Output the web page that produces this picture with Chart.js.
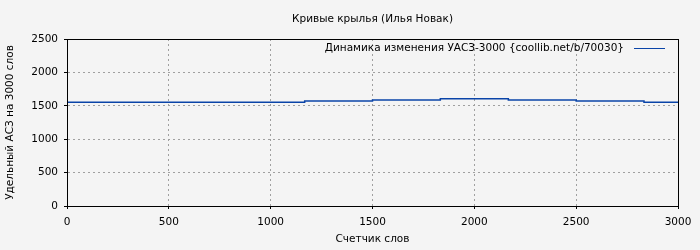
<!DOCTYPE html>
<html>
<head>
<meta charset="utf-8">
<script src="https://cdn.jsdelivr.net/npm/chart.js@4/dist/chart.umd.min.js"></script>
<style>
  html, body { margin: 0; padding: 0; background: #f4f4f4; }
  #wrap { width: 700px; height: 250px; }
</style>
</head>
<body>
<div id="wrap"><canvas id="Grafico" width="700" height="250"></canvas></div>
<script>
// word counter positions where the value changes, and the value from there on
const wordCounts = [0, 1167, 1500, 1833, 2167, 2500, 2833, 3000];
const uasValues = [1555, 1570, 1585, 1605, 1585, 1570, 1555, 1555];
const xTicks = [0, 500, 1000, 1500, 2000, 2500, 3000];
const yTicks = [0, 500, 1000, 1500, 2000, 2500];

const chartTitle = "Кривые крылья (Илья Новак)";
const seriesLabel = "Динамика изменения УАСЗ-3000 {coollib.net/b/70030}";
const lineColor = "#0a44a8";
const fontSize = 10.5;

document.addEventListener('DOMContentLoaded', function () {
  // frame around the plot area + legend drawn inside the plot
  const frameAndLegend = {
    id: 'frameAndLegend',
    afterDatasetsDraw(chart) {
      const ctx = chart.ctx;
      const a = chart.chartArea;
      ctx.save();
      ctx.strokeStyle = "#000";
      ctx.lineWidth = 1;
      ctx.strokeRect(Math.round(a.left) + 0.5, Math.round(a.top) + 0.5,
        Math.round(a.right - a.left), Math.round(a.bottom - a.top));
      ctx.font = fontSize + "px 'DejaVu Sans'";
      ctx.fillStyle = "#000";
      ctx.textAlign = "right";
      ctx.textBaseline = "middle";
      const y = a.top + 9;
      ctx.fillText(seriesLabel, a.right - 54, y);
      ctx.strokeStyle = lineColor;
      ctx.beginPath();
      ctx.moveTo(a.right - 44, y + 0.5);
      ctx.lineTo(a.right - 13, y + 0.5);
      ctx.stroke();
      ctx.restore();
    }
  };

  const f = { family: "'DejaVu Sans'", size: fontSize };

  let canva = document.getElementById("Grafico").getContext("2d");
  var chart = new Chart(canva, {
    type: "line",
    data: {
      datasets: [{
        label: seriesLabel,
        data: wordCounts.map((w, i) => ({ x: w, y: uasValues[i] })),
        borderColor: lineColor,
        borderWidth: 1.5,
        pointRadius: 0,
        stepped: 'before',
        fill: false
      }]
    },
    options: {
      responsive: false,
      animation: false,
      layout: { padding: { left: 4, right: 22, top: 0, bottom: 0 } },
      plugins: {
        legend: { display: false },
        tooltip: { enabled: false },
        title: {
          display: true,
          text: chartTitle,
          fullSize: false,
          color: "#000",
          font: { family: "'DejaVu Sans'", size: fontSize, weight: 'normal', lineHeight: 1.2 },
          padding: { top: 13, bottom: 13.4 }
        }
      },
      scales: {
        x: {
          type: 'linear',
          min: 0, max: 3000,
          afterBuildTicks: s => { s.ticks = xTicks.map(v => ({ value: v })); },
          afterFit: s => { s.height = 44; },
          grid: { color: "#a0a0a0", tickColor: "#000", tickLength: 3, lineWidth: 1 },
          border: { color: "#000", dash: [2, 3] },
          ticks: { color: "#000", font: f, padding: 7, maxRotation: 0, callback: v => String(v) },
          title: { display: true, text: "Счетчик слов", color: "#000",
            font: f, padding: { top: 4, bottom: 4 } }
        },
        y: {
          min: 0, max: 2500,
          afterBuildTicks: s => { s.ticks = yTicks.map(v => ({ value: v })); },
          afterFit: s => { s.width = 63; },
          grid: { color: "#a0a0a0", tickColor: "#000", tickLength: 3, lineWidth: 1 },
          border: { color: "#000", dash: [2, 3] },
          ticks: { color: "#000", font: f, padding: 6, callback: v => String(v) },
          title: { display: true, text: "Удельный АСЗ на 3000 слов", color: "#000",
            font: f, padding: { top: 0, bottom: 6 } }
        }
      }
    },
    plugins: [frameAndLegend]
  });
});
</script>
</body>
</html>
